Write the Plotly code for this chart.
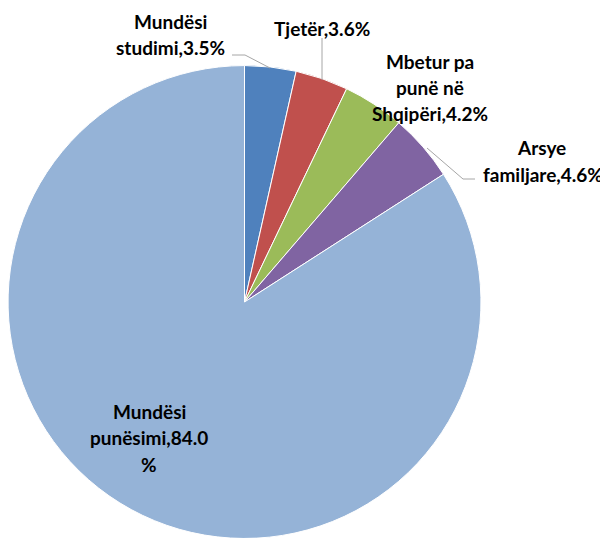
import plotly.graph_objects as go

W, H = 608, 538
OFF = 8  # page body margin offset of the figure

categories = ["Mundësi studimi", "Tjetër", "Mbetur pa punë në Shqipëri", "Arsye familjare", "Mundësi punësimi"]
values = [3.5, 3.6, 4.2, 4.6, 84.0]
colors = ["#4F81BD", "#C0504D", "#9BBB59", "#8064A2", "#95B3D7"]

# label lines (text split as in reference)
label_lines = [
    ["Mundësi", "studimi,3.5%"],
    ["Tjetër,3.6%"],
    ["Mbetur pa", "punë në", "Shqipëri,4.2%"],
    ["Arsye", "familjare,4.6%"],
    ["Mundësi", "punësimi,84.0", "%"],
]
# label anchor (center x, first line y) in page pixels and line spacing
label_pos = [(170, 21), (322, 28), (430, 61), (541, 148), (149, 411)]
line_gap = 26.5

def px(x):
    return (x - OFF) / W

def py(y):
    return 1 - (y - OFF) / H

fig = go.Figure(go.Pie(
    labels=categories,
    values=values,
    marker=dict(colors=colors, line=dict(color="white", width=1)),
    sort=False,
    direction="clockwise",
    rotation=0,
    textinfo="none",
    hoverinfo="label+percent",
    domain=dict(x=[0.0, 0.778], y=[0.014, 0.893]),
    showlegend=False,
))

annotations = []
for lines, (cx, cy) in zip(label_lines, label_pos):
    for i, t in enumerate(lines):
        x, anchor = cx, "center"
        if t.startswith("familjare"):
            x, anchor = 605, "right"
        annotations.append(dict(
            x=px(x), y=py(cy + i * line_gap), xref="paper", yref="paper",
            text="<b>" + t + "</b>", showarrow=False,
            xanchor=anchor, yanchor="middle",
            font=dict(family="Lato, Carlito, Calibri, sans-serif", size=19, color="#000000"),
        ))

leaders = [
    [(232, 55), (245, 55), (270, 68)],
    [(322, 38), (322, 80)],
    [(427, 148), (463, 179), (475, 179)],
]
shapes = []
for pts in leaders:
    for (x0, y0), (x1, y1) in zip(pts[:-1], pts[1:]):
        shapes.append(dict(type="line", xref="paper", yref="paper",
                           x0=px(x0), y0=py(y0), x1=px(x1), y1=py(y1),
                           line=dict(color="#A6A6A6", width=1)))

fig.update_layout(
    width=W, height=H,
    margin=dict(l=0, r=0, t=0, b=0),
    paper_bgcolor="white",
    plot_bgcolor="white",
    annotations=annotations,
    shapes=shapes,
)

fig.write_html("out.html")
